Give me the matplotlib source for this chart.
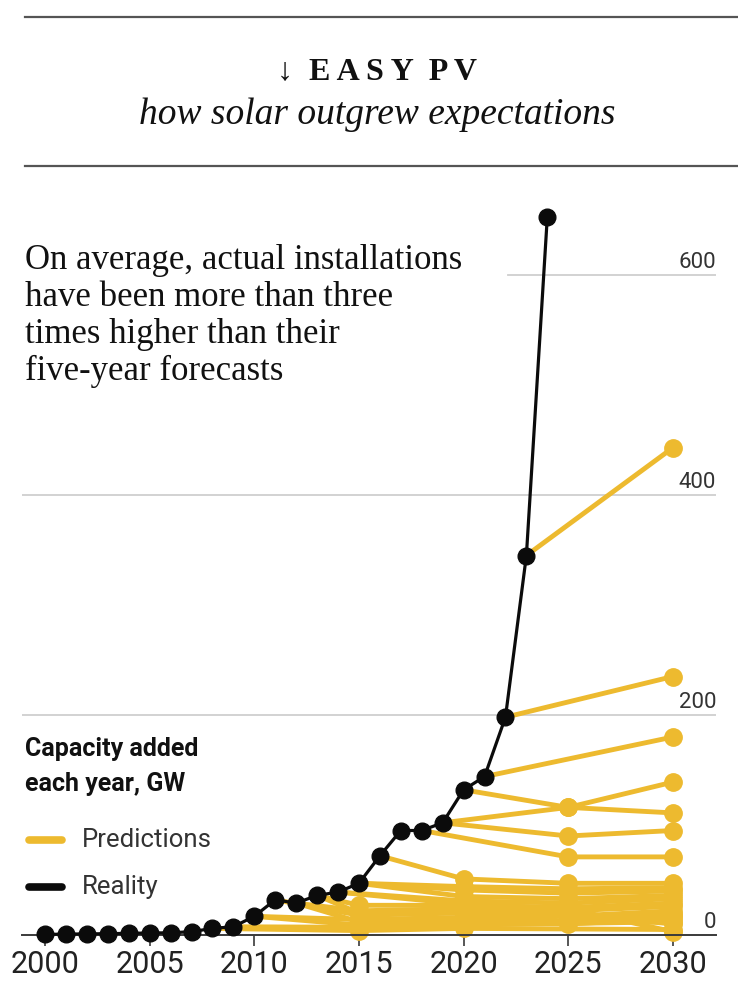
import matplotlib
matplotlib.use("Agg")
import matplotlib.pyplot as plt
from matplotlib.lines import Line2D

# 실제 연간 설치량 (GW)
years = list(range(2000, 2025))
reality = [0.5, 0.8, 1, 1.2, 1.5, 1.8, 2, 3, 6, 7.5, 17, 32, 29, 36, 39, 47, 72,
           95, 95, 102, 132, 144, 198, 345, 653]

# 예측: 발표 연도, 목표 연도, 예측값
pred_start = [2008, 2009, 2010, 2010, 2011, 2012, 2012, 2013, 2014, 2015, 2015,
              2016, 2015, 2018, 2019, 2019, 2020, 2021, 2022, 2023, 2013, 2014]
pred_years = [[2015, 2020, 2030], [2015, 2020, 2030], [2015, 2020, 2025, 2030],
              [2015, 2020, 2030], [2015, 2020, 2025, 2030], [2015, 2020, 2025, 2030],
              [2015, 2020, 2025, 2030], [2015, 2020, 2025, 2030], [2020, 2025, 2030],
              [2020, 2025, 2030], [2020, 2025, 2030], [2020, 2025, 2030],
              [2020, 2025, 2030], [2025, 2030], [2025, 2030], [2025, 2030],
              [2025, 2030], [2030], [2030], [2030], [2015, 2020, 2025, 2030],
              [2020, 2025, 2030]]
pred_values = [[4, 6, 5], [7, 9, 12], [9, 12, 10, 15], [14, 16, 19], [18, 20, 17, 22],
               [12, 15, 13, 17], [22, 24, 22, 26], [27, 27, 25, 29], [31, 29, 33],
               [35, 33, 36], [41, 38, 40], [51, 47, 47], [44, 42, 43], [71, 71],
               [90, 95], [116, 139], [116, 111], [180], [235], [443], [20, 21, 19, 10],
               [28, 24, 3]]

yticks = [0, 200, 400, 600]
xticks = [2000, 2005, 2010, 2015, 2020, 2025, 2030]

YELLOW = '#EDBA2F'
BLACK = '#0b0b0b'
SERIF = ['Liberation Serif', 'DejaVu Serif']
SANS = ['Roboto', 'DejaVu Sans']

W, H = 738, 981
fig = plt.figure(figsize=(W / 100, H / 100), dpi=100)

def fx(px):
    return px / W

def fy(py):
    return 1 - py / H

# 축 위치 (픽셀 기준)
left, right, bottom, top = 22, 716, 935, 190
ax = fig.add_axes([fx(left), fy(bottom), fx(right) - fx(left), (bottom - top) / H])
ax.set_xlim(2000 - 23 / 20.93, 2000 + 671 / 20.93)
ax.set_ylim(0, (bottom - top) / 1.1)

for s in ['top', 'left', 'right']:
    ax.spines[s].set_visible(False)
ax.spines['bottom'].set_color('#3a3a3a')
ax.spines['bottom'].set_linewidth(1.4)
ax.set_yticks([])
ax.set_xticks(xticks)
ax.set_xticklabels([str(x) for x in xticks], family=SANS, fontsize=22, color='#222222')
ax.tick_params(axis='x', length=8, width=1.2, color='#3a3a3a', pad=3)

# 격자선
for v in yticks[1:]:
    xmin = 0.7 if v == 600 else 0.0
    ax.axhline(v, xmin=xmin, xmax=1, color='#cfcfcf', lw=1.3, zorder=0)
for v in yticks:
    ax.text(1.0, v + 6, str(v), transform=ax.get_yaxis_transform(), ha='right', va='baseline',
            family=SANS, fontsize=16, color='#333333')

# 예측선
for st, ys, vs in zip(pred_start, pred_years, pred_values):
    xs = [st] + ys
    vals = [reality[years.index(st)]] + vs
    ax.plot(xs, vals, color=YELLOW, lw=3.5, zorder=2, solid_capstyle='round')
    ax.plot(ys, vs, 'o', color=YELLOW, ms=12.5, zorder=2, clip_on=False)

# 실제값
ax.plot(years, reality, color=BLACK, lw=2.3, marker='o', ms=12, zorder=3, clip_on=False)

# 상단 제목
fig.add_artist(Line2D([fx(25), 1], [fy(17), fy(17)], color='#555555', lw=1.6))
fig.add_artist(Line2D([fx(25), 1], [fy(166), fy(166)], color='#555555', lw=1.6))
fig.text(0.511, fy(72), '\u2193  E A S Y  P V', ha='center', va='center', family=SERIF,
         fontweight='bold', fontsize=23, color='#111111')
fig.text(0.511, fy(115), 'how solar outgrew expectations', ha='center', va='center',
         family=SERIF, style='italic', fontsize=27, color='#111111')

# 주석
note = ['On average, actual installations', 'have been more than three',
        'times higher than their', 'five-year forecasts']
for i, line in enumerate(note):
    fig.text(fx(25), fy(269 + 37 * i), line, ha='left', va='baseline', family=SERIF,
             fontsize=25, color='#111111')

# 범례
fig.text(fx(25), fy(756), 'Capacity added', ha='left', va='baseline', family=SANS,
         fontweight='bold', fontsize=18, color='#111111')
fig.text(fx(25), fy(791), 'each year, GW', ha='left', va='baseline', family=SANS,
         fontweight='bold', fontsize=18, color='#111111')
fig.add_artist(Line2D([fx(29), fx(62)], [fy(840), fy(840)], color=YELLOW, lw=5.5, solid_capstyle='round'))
fig.add_artist(Line2D([fx(29), fx(62)], [fy(887), fy(887)], color=BLACK, lw=5.5, solid_capstyle='round'))
fig.text(fx(82), fy(840), 'Predictions', ha='left', va='center', family=SANS, fontsize=18.5, color='#333333')
fig.text(fx(82), fy(887), 'Reality', ha='left', va='center', family=SANS, fontsize=18.5, color='#333333')

fig.savefig('out.png', dpi=100, facecolor='white')
